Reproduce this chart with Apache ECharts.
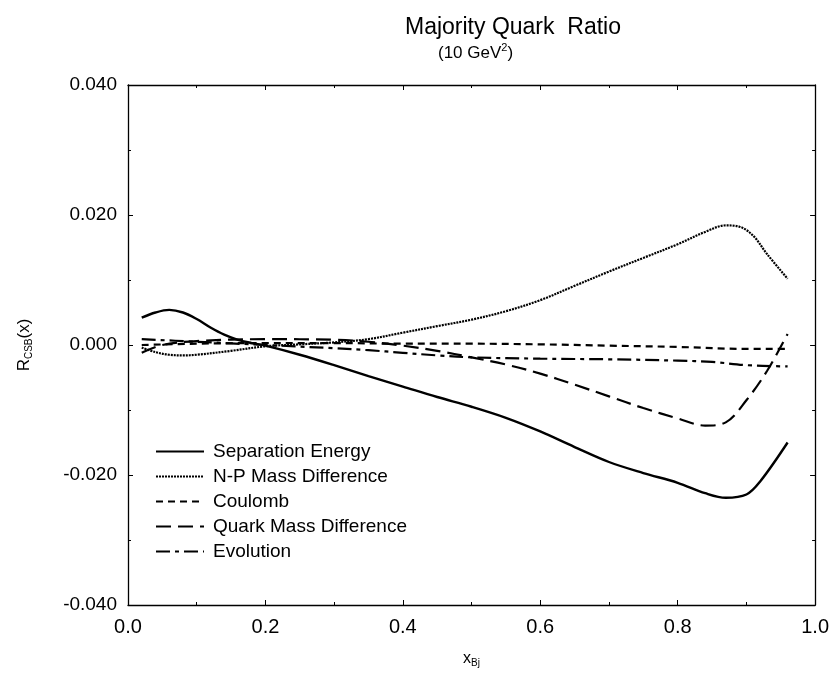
<!DOCTYPE html>
<html><head><meta charset="utf-8">
<script src="https://cdn.jsdelivr.net/npm/echarts@6/dist/echarts.min.js"></script>
<style>html,body{margin:0;padding:0;background:#fff}#c{width:832px;height:673px}</style>
</head><body><div id="c"></div>
<script>
const sepX = [0.02,0.04,0.06,0.08,0.10,0.12,0.14,0.16,0.18,0.20,0.25,0.30,0.35,0.40,0.45,0.50,0.55,0.60,0.65,0.70,0.75,0.80,0.84,0.87,0.90,0.92,0.96];
const sepY = [0.0042,0.0050,0.0054,0.0050,0.0040,0.0027,0.0016,0.0008,0.0003,-0.0001,-0.0015,-0.0031,-0.0048,-0.0064,-0.0080,-0.0095,-0.0112,-0.0133,-0.0157,-0.0180,-0.0197,-0.0212,-0.0228,-0.0235,-0.0230,-0.0210,-0.0150];
const npX = [0.02,0.04,0.06,0.08,0.10,0.15,0.20,0.25,0.30,0.35,0.40,0.45,0.50,0.55,0.60,0.65,0.70,0.75,0.80,0.84,0.87,0.89,0.91,0.93,0.96];
const npY = [-0.0004,-0.0011,-0.0015,-0.0016,-0.0015,-0.0009,-0.0002,0.0001,0.0004,0.0009,0.0019,0.0029,0.0039,0.0052,0.0069,0.0091,0.0113,0.0134,0.0155,0.0174,0.0184,0.0182,0.0168,0.0140,0.0102];
const coulX = [0.02,0.10,0.20,0.30,0.40,0.50,0.60,0.70,0.80,0.90,0.96];
const coulY = [0.0000,0.0002,0.0003,0.0003,0.0002,0.0002,0.0001,-0.0001,-0.0003,-0.0006,-0.0006];
const qmX = [0.02,0.05,0.10,0.20,0.30,0.35,0.40,0.45,0.50,0.55,0.60,0.65,0.70,0.75,0.80,0.84,0.87,0.90,0.93,0.96];
const qmY = [-0.0012,0.0000,0.0006,0.0009,0.0008,0.0005,-0.0001,-0.0009,-0.0019,-0.0030,-0.0044,-0.0061,-0.0079,-0.0097,-0.0113,-0.0124,-0.0119,-0.0085,-0.0040,0.0017];
const evX = [0.02,0.10,0.20,0.30,0.35,0.40,0.45,0.50,0.60,0.70,0.80,0.85,0.90,0.96];
const evY = [0.0009,0.0005,0.0000,-0.0005,-0.0008,-0.0012,-0.0016,-0.0019,-0.0021,-0.0022,-0.0024,-0.0026,-0.0031,-0.0033];
const names = ['Separation Energy','N-P Mass Difference','Coulomb','Quark Mass Difference','Evolution'];
const xTicks = [0,0.2,0.4,0.6,0.8,1.0];
const yTicks = [-0.04,-0.02,0,0.02,0.04];

const FONT = 'Liberation Sans, Arial, Helvetica, sans-serif';
const pair = (xs, ys) => xs.map((x, i) => [x, ys[i]]);
const chart = echarts.init(document.getElementById('c'));
function axisCommon() {
  return {
    axisLine: {show: true, onZero: false, lineStyle: {color: '#000', width: 1.3}},
    axisTick: {show: true, inside: true, length: 5, lineStyle: {color: '#000', width: 1}},
    minorTick: {show: true, splitNumber: 2, length: 3, lineStyle: {color: '#000', width: 1}},
    splitLine: {show: false}
  };
}
function mkSeries(name, data, type, width) {
  return {name, type: 'line', data, showSymbol: false, symbol: 'none', smooth: 0.35,
    lineStyle: {color: '#000', width: width || 2.2, type}, itemStyle: {color: '#000'}};
}
chart.setOption({
  animation: false,
  backgroundColor: '#fff',
  title: [
    {text: 'Majority Quark  Ratio', left: 400, top: 11, textStyle: {fontFamily: FONT, fontSize: 23, fontWeight: 'normal', color: '#000'}},
    {text: '{a|(10 GeV}{s|2}{a|)}', left: 433, top: 37,
     textStyle: {fontWeight: 'normal', rich: {a: {fontFamily: FONT, fontSize: 17, fontWeight: 'normal', color: '#000', lineHeight: 22}, s: {fontFamily: FONT, fontSize: 11, fontWeight: 'normal', color: '#000', verticalAlign: 'top', lineHeight: 13}}}}
  ],
  legend: {
    orient: 'vertical', left: 150, top: 436, itemWidth: 48, itemHeight: 14, itemGap: 4,
    data: names, selectedMode: false,
    itemStyle: {color: 'rgba(0,0,0,0)', borderWidth: 0, opacity: 0},
    textStyle: {fontFamily: FONT, fontSize: 19, lineHeight: 21, color: '#000', padding: [0,0,0,4]}
  },
  grid: {left: 128, right: 13, top: 85, bottom: 61, containLabel: false},
  xAxis: [
    Object.assign({type: 'value', position: 'bottom', min: 0, max: 1, interval: 0.2,
      axisLabel: {fontFamily: FONT, fontSize: 20, color: '#000', margin: 12, formatter: v => v.toFixed(1)},
      name: '{a|x}{b|Bj}', nameLocation: 'middle', nameGap: 45,
      nameTextStyle: {rich: {a: {fontFamily: FONT, fontSize: 16, color: '#000', lineHeight: 18}, b: {fontFamily: FONT, fontSize: 10, color: '#000', verticalAlign: 'bottom', lineHeight: 8}}}
    }, axisCommon()),
    Object.assign({type: 'value', position: 'top', min: 0, max: 1, interval: 0.2, axisLabel: {show: false}}, axisCommon())
  ],
  yAxis: [
    Object.assign({type: 'value', position: 'left', min: -0.04, max: 0.04, interval: 0.02,
      axisLabel: {fontFamily: FONT, fontSize: 19, color: '#000', margin: 11, formatter: v => v.toFixed(3)},
      name: '{a|R}{b|CSB}{a|(x)}', nameLocation: 'middle', nameGap: 94, nameRotate: 90,
      nameTextStyle: {rich: {a: {fontFamily: FONT, fontSize: 17, color: '#000', lineHeight: 20}, b: {fontFamily: FONT, fontSize: 10, color: '#000', verticalAlign: 'bottom', lineHeight: 8}}}
    }, axisCommon()),
    Object.assign({type: 'value', position: 'right', min: -0.04, max: 0.04, interval: 0.02, axisLabel: {show: false}}, axisCommon())
  ],
  series: [
    mkSeries(names[0], pair(sepX, sepY), 'solid', 2.4),
    mkSeries(names[1], pair(npX, npY), [2, 1], 2.2),
    mkSeries(names[2], pair(coulX, coulY), [7, 5], 2.2),
    mkSeries(names[3], pair(qmX, qmY), [15, 7], 2.2),
    mkSeries(names[4], pair(evX, evY), [14, 5, 4, 5], 2.2)
  ]
});
</script></body></html>
